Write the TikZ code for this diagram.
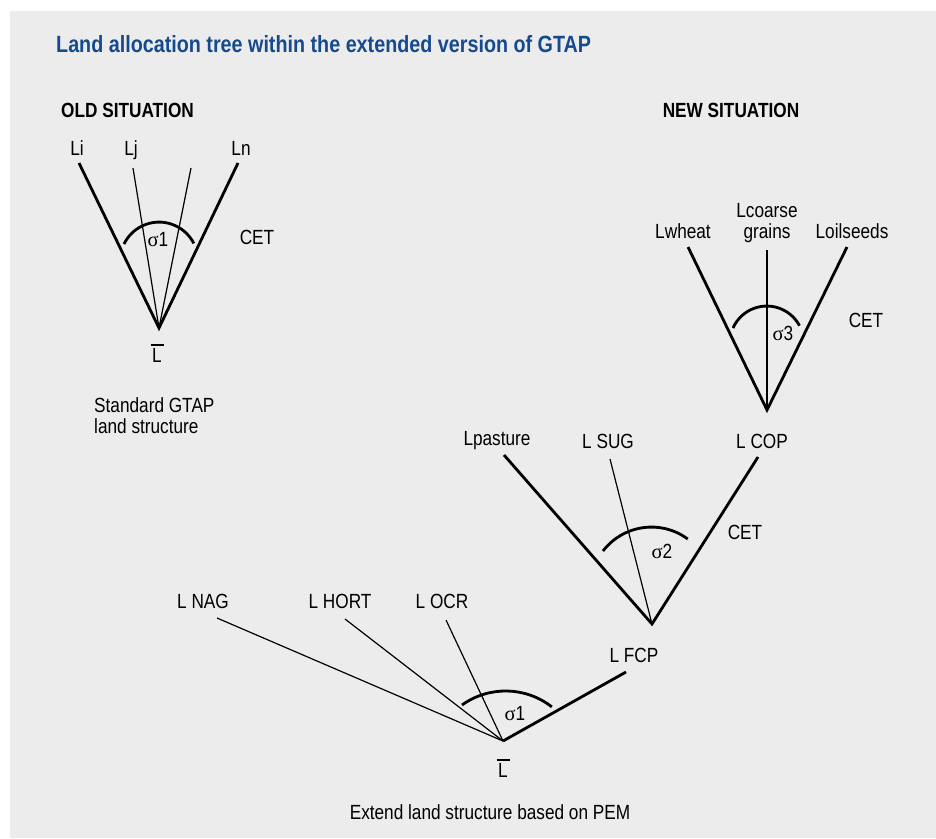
\documentclass[tikz,border=0pt]{standalone}
\usepackage{fontspec}
\setmainfont{Liberation Sans}[FakeStretch=0.84]
\newfontfamily\greekserif{Liberation Serif}
\definecolor{panelgray}{RGB}{236,236,236}
\definecolor{titleblue}{RGB}{22,74,142}
\newcommand\sigm{{\greekserif σ}}
\newcommand\barL{\vbox{\hrule height2.6pt\kern1.8pt\hbox to 13pt{\hss L\hss}}}
\tikzset{
  lbl/.style={inner sep=0pt, font=\fontsize{20.5}{21}\selectfont},
  head/.style={inner sep=0pt, font=\fontsize{20.5}{21}\selectfont\bfseries},
  ttlstyle/.style={inner sep=0pt, text=titleblue, font=\fontsize{23.5}{24}\selectfont\bfseries},
  branch/.style={line width=2.8pt},
  twig/.style={line width=1.2pt},
  bow/.style={line width=2.8pt},
}

\begin{document}
\begin{tikzpicture}[x=1pt,y=-1pt]
  \useasboundingbox (0,0) rectangle (936,838);
  \fill[panelgray] (10,11) rectangle (936,838);
  \node[ttlstyle, anchor=base west] (ttl) at (56,52) {Land allocation tree within the extended version of GTAP};
  \node[head, anchor=base west] (old) at (61,117) {OLD SITUATION};
  \node[head, anchor=base] (new) at (731,117) {NEW SITUATION};

  % old situation
  \coordinate (r0) at (159,328);
  \def\oldtops{79/163,133/168,191/168,238/163}
  \foreach \x/\y [count=\i from 1] in \oldtops {\coordinate (o\i) at (\x,\y);}
  \draw[branch] (o1) -- (r0) -- (o4);
  \draw[twig] (o2) -- (r0) -- (o3);
  \draw[bow] (124,244) arc[start angle=-154, end angle=-27, radius=39];
  \node[lbl, anchor=base] (li) at (77,155) {Li};
  \node[lbl, anchor=base] (lj) at (131,155) {Lj};
  \node[lbl, anchor=base] (ln) at (241,155) {Ln};
  \node[lbl] (so) at (158,240) {\sigm1};
  \node[lbl] (ceto) at (257,237) {CET};
  \node[lbl, anchor=base] (lo) at (157,362) {\barL};
  \node[lbl, align=left, anchor=north west] (std) at (94,397.5) {Standard GTAP\\land structure};

  % new situation
  \coordinate (rc) at (767,410);
  \coordinate (rf) at (652,624);
  \coordinate (rl) at (503,741);
  \def\coptops{688/247,767/250,847/247}
  \def\fcptops{504/455,610/459,758/457}
  \def\landtops{217/618,345/619,446/620,626/672}
  \foreach \x/\y [count=\i from 1] in \coptops {\coordinate (c\i) at (\x,\y);}
  \foreach \x/\y [count=\i from 1] in \fcptops {\coordinate (f\i) at (\x,\y);}
  \foreach \x/\y [count=\i from 1] in \landtops {\coordinate (n\i) at (\x,\y);}
  \draw[branch] (c1) -- (rc) -- (c3);
  \draw[twig] (c2) -- (rc);
  \draw[branch] (f1) -- (rf) -- (f3);
  \draw[twig] (f2) -- (rf);
  \foreach \i in {1,2,3} {\draw[twig] (n\i) -- (rl);}
  \draw[branch] (n4) -- (rl);
  \draw[bow] (733,328) arc[start angle=-156, end angle=-28, radius=37];
  \draw[bow] (603,551) arc[start angle=-142.6, end angle=-53.5, radius=61];
  \draw[bow] (462,705) arc[start angle=-125.6, end angle=-52, radius=75];

  \node[lbl, anchor=base] (wheat) at (683,238) {Lwheat};
  \node[lbl, align=center, anchor=north] (coarse) at (767,203) {Lcoarse\\grains};
  \node[lbl, anchor=base] (oil) at (852,238) {Loilseeds};
  \node[lbl] (s3) at (783,333) {\sigm3};
  \node[lbl] (cetc) at (866,320) {CET};
  \node[lbl, anchor=base] (cop) at (762,448) {L COP};
  \node[lbl, anchor=base] (past) at (497,445) {Lpasture};
  \node[lbl, anchor=base] (sug) at (608,448) {L SUG};
  \node[lbl] (s2) at (662,551) {\sigm2};
  \node[lbl] (cetf) at (745,532) {CET};
  \node[lbl, anchor=base] (fcp) at (634,662) {L FCP};
  \node[lbl, anchor=base] (nag) at (203,608) {L NAG};
  \node[lbl, anchor=base] (hort) at (340,608) {L HORT};
  \node[lbl, anchor=base] (ocr) at (442,608) {L OCR};
  \node[lbl] (s1) at (515,714) {\sigm1};
  \node[lbl, anchor=base] (ln0) at (503,777) {\barL};
  \node[lbl, anchor=base] (ext) at (490,819) {Extend land structure based on PEM};
\end{tikzpicture}
\end{document}
